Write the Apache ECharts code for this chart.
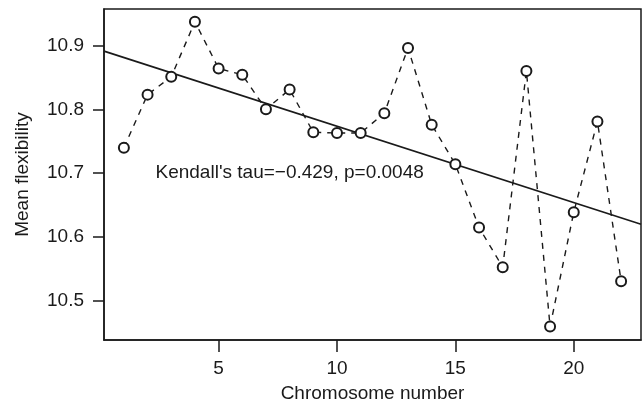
<!DOCTYPE html>
<html>
<head>
<meta charset="utf-8">
<script src="https://cdn.jsdelivr.net/npm/echarts@6/dist/echarts.min.js"></script>
<style>html,body{margin:0;padding:0;background:#fff}#c{width:644px;height:408px}</style>
</head>
<body>
<div id="c"></div>
<script>
const chromosomes = [1,2,3,4,5,6,7,8,9,10,11,12,13,14,15,16,17,18,19,20,21,22];
const meanFlex = [10.740,10.823,10.851,10.937,10.864,10.854,10.800,10.831,10.764,10.763,10.763,10.794,10.896,10.776,10.714,10.615,10.553,10.860,10.460,10.639,10.781,10.531];
const xTicks = [5,10,15,20];
const yTicks = [10.5,10.6,10.7,10.8,10.9];
const xRange = [0.16, 22.84];
const yRange = [10.439, 10.957];
const fitIntercept = 10.893;
const fitSlope = -0.01194;
const annotationText = "Kendall's tau=\u22120.429, p=0.0048";
const annotationPos = [8, 10.7];

const ink = '#1a1a1a';
const font = 'Liberation Sans, Arial, Helvetica, sans-serif';
const pts = chromosomes.map((c,i)=>[c, meanFlex[i]]);
const fitLine = xRange.map(x=>[x, fitIntercept + fitSlope*x]);

const chart = echarts.init(document.getElementById('c'), null, {renderer:'canvas'});
chart.setOption({
  animation:false,
  backgroundColor:'#fff',
  grid:{left:104, top:9, right:3, bottom:65, show:true, borderColor:ink, borderWidth:1.5, backgroundColor:'transparent'},
  xAxis:{
    type:'value', min:xRange[0], max:xRange[1],
    name:'Chromosome number', nameLocation:'middle', nameGap:44,
    nameTextStyle:{fontFamily:font, fontSize:19, color:ink},
    axisLine:{show:true, onZero:false, lineStyle:{color:ink, width:1.5}},
    axisTick:{show:true, length:12, customValues:xTicks, lineStyle:{color:ink, width:1.5}},
    axisLabel:{show:true, customValues:xTicks, margin:19, fontFamily:font, fontSize:19, color:ink},
    splitLine:{show:false}
  },
  yAxis:{
    type:'value', min:yRange[0], max:yRange[1],
    name:'Mean flexibility', nameLocation:'middle', nameGap:72, nameRotate:90,
    nameTextStyle:{fontFamily:font, fontSize:19, color:ink},
    axisLine:{show:true, onZero:false, lineStyle:{color:ink, width:1.5}},
    axisTick:{show:true, length:11, customValues:yTicks, lineStyle:{color:ink, width:1.5}},
    axisLabel:{show:true, customValues:yTicks, margin:20, fontFamily:font, fontSize:19, color:ink,
      formatter:v=>v.toFixed(1)},
    splitLine:{show:false}
  },
  series:[
    {
      type:'line', data:fitLine, symbol:'none', silent:true,
      lineStyle:{color:ink, width:1.6}, z:2
    },
    {
      type:'line', data:pts, symbol:'emptyCircle', symbolSize:10,
      lineStyle:{color:ink, width:1.4, type:[6,6]},
      itemStyle:{color:ink, borderColor:ink, borderWidth:1.5},
      z:3
    },
    {
      type:'scatter', data:[annotationPos], symbol:'circle', symbolSize:1, silent:true,
      itemStyle:{opacity:0},
      label:{show:true, position:'inside', formatter:annotationText,
        fontFamily:font, fontSize:19, color:ink, opacity:1},
      z:4
    }
  ]
});
</script>
</body>
</html>
